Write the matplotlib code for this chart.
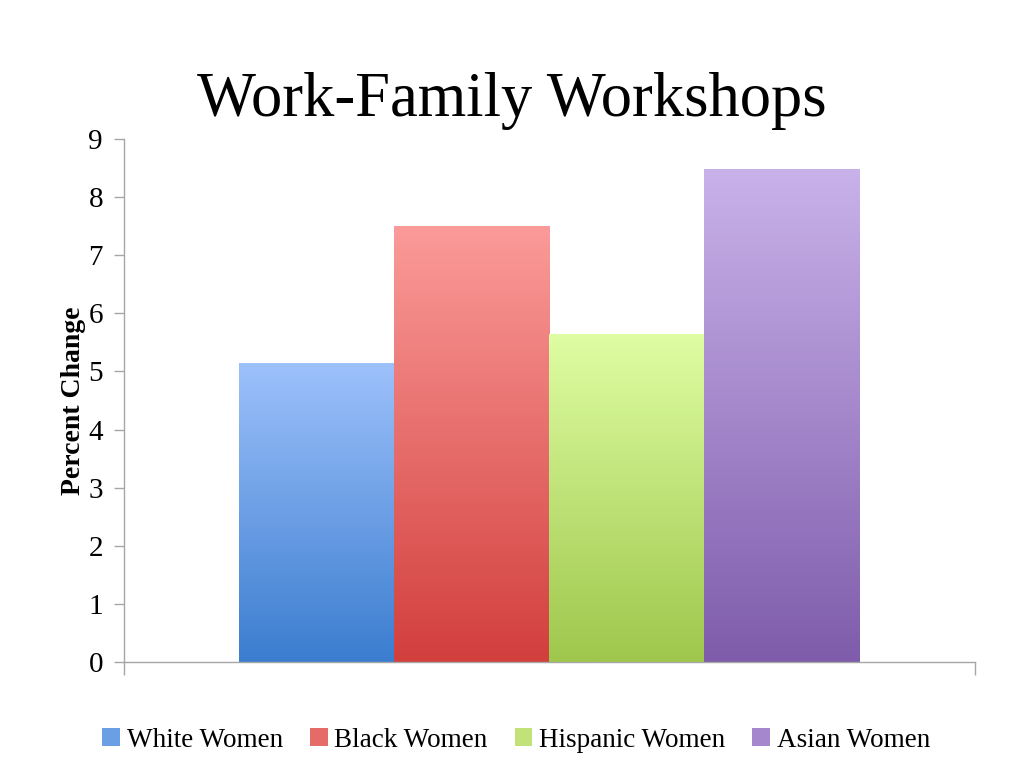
import numpy as np
import matplotlib
matplotlib.use("Agg")
import matplotlib.pyplot as plt
from matplotlib.colors import LinearSegmentedColormap
from matplotlib.patches import Patch

plt.rcParams['font.family'] = ['Liberation Serif', 'DejaVu Serif']

# data
groups = ["White Women", "Black Women", "Hispanic Women", "Asian Women"]
values = [5.14, 7.50, 5.65, 8.48]
top_colors = ["#9dc1fb", "#fb9b99", "#dffda3", "#c9b2ea"]
bottom_colors = ["#3b7dcf", "#d23f3d", "#9fc74c", "#7e5cab"]
yticks = list(range(0, 10))

fig = plt.figure(figsize=(10.24, 7.68), dpi=100)
ax = fig.add_axes([0.121, 0.138, 0.831, 0.681])

bar_w = 0.729 / len(groups)
xs = -0.729 / 2 + bar_w / 2 + bar_w * np.arange(len(groups))

grad = np.linspace(0, 1, 256).reshape(-1, 1)
for x, v, tc, bc in zip(xs, values, top_colors, bottom_colors):
    bar = ax.bar(x, v, width=bar_w, color="none", edgecolor="none", zorder=2)[0]
    cmap = LinearSegmentedColormap.from_list("g", [bc, tc])
    im = ax.imshow(grad, cmap=cmap, aspect="auto", origin="lower",
                   extent=[x - bar_w / 2, x + bar_w / 2, 0, v], zorder=2)
    im.set_clip_path(bar)

ax.set_xlim(-0.5, 0.5)
ax.set_ylim(0, 9)
ax.set_yticks(yticks)
ax.set_xticks([-0.5, 0.5])
ax.set_xticklabels(["", ""])

for s in ["top", "right"]:
    ax.spines[s].set_visible(False)
for s in ["left", "bottom"]:
    ax.spines[s].set_color("#a6a6a6")
    ax.spines[s].set_linewidth(1.0)
ax.tick_params(axis="y", colors="#a6a6a6", labelcolor="black", labelsize=21, length=7, width=1.0, pad=8)
ax.tick_params(axis="x", colors="#a6a6a6", length=9, width=1.0)

ax.set_ylabel("Percent Change", fontsize=20, fontweight="bold", labelpad=2)

fig.text(0.5, 0.868, "Work-Family Workshops", ha="center", va="center", fontsize=45)

handles = [Patch(facecolor=c, edgecolor="none") for c in
           ["#6a9fe6", "#e66a68", "#c0e279", "#a487cc"]]
fig.legend(handles, groups, loc="center", bbox_to_anchor=(0.504, 0.036), ncol=4,
           frameon=False, fontsize=19.5, handlelength=0.65, handleheight=0.65,
           handletextpad=0.25, columnspacing=1.0)

fig.savefig("out.png", dpi=100)
